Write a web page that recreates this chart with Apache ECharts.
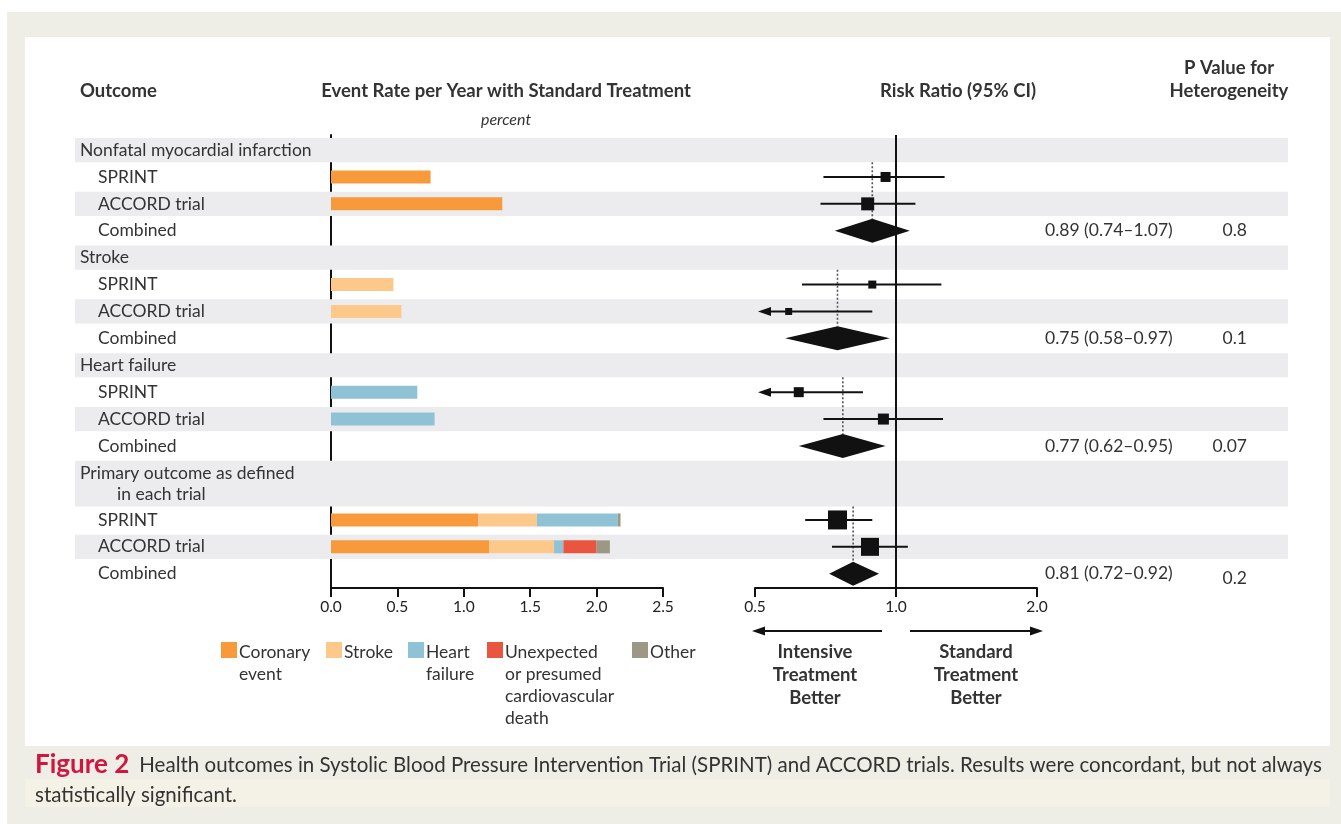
<!DOCTYPE html>
<html>
<head>
<meta charset="utf-8">
<title>SPRINT and ACCORD outcomes</title>
<script src="https://cdn.jsdelivr.net/npm/echarts@6/dist/echarts.min.js"></script>
<style>
  html, body { margin: 0; padding: 0; background: #ffffff; }
  #chart { width: 1341px; height: 824px; }
</style>
</head>
<body>
<div id="chart"></div>
<script>
// ---------- data ----------
const rowLabels = [
  'Nonfatal myocardial infarction', 'SPRINT', 'ACCORD trial', 'Combined',
  'Stroke', 'SPRINT', 'ACCORD trial', 'Combined',
  'Heart failure', 'SPRINT', 'ACCORD trial', 'Combined',
  'Primary outcome as defined\nin each trial', 'SPRINT', 'ACCORD trial', 'Combined'
];
const rowKind = [
  'group', 'trial', 'trial', 'combined',
  'group', 'trial', 'trial', 'combined',
  'group', 'trial', 'trial', 'combined',
  'group', 'trial', 'trial', 'combined'
];
const componentNames = ['Coronary\nevent', 'Stroke', 'Heart\nfailure', 'Unexpected\nor presumed\ncardiovascular\ndeath', 'Other'];

// event rate per year with standard treatment, percent
const coronaryRate     = [null, 0.75, 1.29, null,  null, null, null, null,  null, null, null, null,  null, 1.11, 1.19, null];
const strokeRate       = [null, null, null, null,  null, 0.47, 0.53, null,  null, null, null, null,  null, 0.44, 0.49, null];
const heartFailureRate = [null, null, null, null,  null, null, null, null,  null, 0.65, 0.78, null,  null, 0.61, 0.07, null];
const cvDeathRate      = [null, null, null, null,  null, null, null, null,  null, null, null, null,  null, null, 0.25, null];
const otherRate        = [null, null, null, null,  null, null, null, null,  null, null, null, null,  null, 0.02, 0.10, null];

// risk ratio with 95% CI
const riskRatio = [null, 0.95, 0.87, 0.89,  null, 0.89, 0.59, 0.75,  null, 0.62, 0.94, 0.77,  null, 0.75, 0.88, 0.81];
const riskLow   = [null, 0.70, 0.69, 0.74,  null, 0.63, 0.39, 0.58,  null, 0.45, 0.70, 0.62,  null, 0.64, 0.73, 0.72];
const riskHigh  = [null, 1.27, 1.10, 1.07,  null, 1.25, 0.89, 0.97,  null, 0.85, 1.26, 0.95,  null, 0.89, 1.06, 0.92];
const heterogeneityP = [null, null, null, '0.8',  null, null, null, '0.1',  null, null, null, '0.07',  null, null, null, '0.2'];

const rateTicks = [0, 0.5, 1, 1.5, 2, 2.5];
const ratioTicks = [0.5, 1, 2];

// ---------- layout ----------
// vertical slot of each row (row units); the two-line heading takes extra room
const rowSlot = [0, 1, 2, 3, 4, 5, 6, 7, 8, 9, 10, 11, 12.4, 13.75, 14.75, 15.75];
const rowHalf = rowSlot.map((s, i) => (i === 12 ? 0.85 : 0.45));
const markerSize = [0, 10, 13, 0,  0, 8, 7, 0,  0, 10, 11, 0,  0, 19, 18, 0];
const pValueShift = [0, 0, 0, 0,  0, 0, 0, 0,  0, 0, 0, 0,  0, 0, 0, 5];

const FONT = 'Lato, "Open Sans", sans-serif';
const TEXT = '#333333';
const INK = '#111111';
const STRIPE = '#ececef';
const ROW_FONT = 17.5;
const HEAD_FONT = 18.5;
const palette = ['#f79a3b', '#fdc98b', '#8fc2d5', '#e9553f', '#9d9885'];
const rateSeries = [coronaryRate, strokeRate, heartFailureRate, cvDeathRate, otherRate];

const Y_MIN = -0.56, Y_MAX = 16.28;
const TOP = 135, HEIGHT = 453;
const RATIO_MIN = ratioTicks[0], RATIO_MAX = ratioTicks[ratioTicks.length - 1];
const DIAMOND_HALF = 12;
const BAR_HEIGHT = 13;

function yAxisFor(gridIndex, showLine) {
  return {
    type: 'value', gridIndex, inverse: true, min: Y_MIN, max: Y_MAX,
    axisLine: { show: showLine, lineStyle: { color: INK, width: 2 } },
    axisTick: { show: false }, axisLabel: { show: false }, splitLine: { show: false }
  };
}
const tickAxisStyle = {
  axisLine: { show: true, onZero: false, lineStyle: { color: INK, width: 2 } },
  axisTick: { show: true, length: 9, lineStyle: { color: INK, width: 2 } },
  axisLabel: { color: '#222', fontFamily: FONT, fontSize: 15.5, margin: 11, formatter: v => Number(v).toFixed(1) },
  splitLine: { show: false }
};

// stacked rate segments for each component
const rateSegments = rateSeries.map((values, c) => {
  const out = [];
  values.forEach((v, i) => {
    if (v == null) return;
    let start = 0;
    for (let k = 0; k < c; k++) start += rateSeries[k][i] || 0;
    out.push([start, start + v, rowSlot[i]]);
  });
  return out;
});

const trialRows = rowKind.map((k, i) => i).filter(i => rowKind[i] === 'trial');
const combinedRows = rowKind.map((k, i) => i).filter(i => rowKind[i] === 'combined');

const series = [];

// row stripes
series.push({
  type: 'custom', xAxisIndex: 0, yAxisIndex: 0, z: 1, silent: true,
  data: rowSlot.map((s, i) => [0, s, rowHalf[i]]).filter((d, i) => i % 2 === 0),
  encode: { x: 0, y: 1 },
  renderItem(params, api) {
    const cs = params.coordSys;
    const y0 = api.coord([0, api.value(1) - api.value(2)])[1];
    const y1 = api.coord([0, api.value(1) + api.value(2)])[1];
    return { type: 'rect', shape: { x: cs.x, y: y0, width: cs.width, height: y1 - y0 }, style: { fill: STRIPE } };
  }
});

// row labels and heterogeneity P values
series.push({
  type: 'custom', xAxisIndex: 0, yAxisIndex: 0, z: 5, silent: true,
  data: rowSlot.map((s, i) => [0, s, i]),
  encode: { x: 0, y: 1 },
  renderItem(params, api) {
    const cs = params.coordSys;
    const i = api.value(2);
    const y = api.coord([0, rowSlot[i]])[1];
    const txt = (text, x, yy, align) => ({
      type: 'text',
      style: { text, x, y: yy, fill: TEXT, fontFamily: FONT, fontSize: ROW_FONT,
               align, textAlign: align, verticalAlign: 'middle', textVerticalAlign: 'middle' }
    });
    const children = [];
    const lines = rowLabels[i].split('\n');
    if (rowKind[i] === 'group') {
      if (lines.length === 1) {
        children.push(txt(lines[0], cs.x + 5, y, 'left'));
      } else {
        children.push(txt(lines[0], cs.x + 5, api.coord([0, rowSlot[i] - 0.4])[1], 'left'));
        children.push(txt(lines[1], cs.x + 42, api.coord([0, rowSlot[i] + 0.4])[1], 'left'));
      }
    } else {
      children.push(txt(lines[0], cs.x + 23, y, 'left'));
    }
    if (heterogeneityP[i] != null) {
      children.push(txt(heterogeneityP[i], cs.x + cs.width - 41, y + pValueShift[i], 'right'));
    }
    return { type: 'group', children };
  }
});

// stacked event-rate bars
rateSegments.forEach((segs, c) => {
  series.push({
    type: 'custom', name: componentNames[c], xAxisIndex: 1, yAxisIndex: 1, z: 3,
    data: segs, encode: { x: [0, 1], y: 2 },
    renderItem(params, api) {
      const a = api.coord([api.value(0), api.value(2)]);
      const b = api.coord([api.value(1), api.value(2)]);
      return {
        type: 'rect',
        shape: { x: a[0], y: a[1] - BAR_HEIGHT / 2, width: b[0] - a[0], height: BAR_HEIGHT },
        style: { fill: palette[c] }
      };
    }
  });
});

// dotted guides from each heading down to the pooled estimate
series.push({
  type: 'custom', xAxisIndex: 2, yAxisIndex: 2, z: 3, silent: true,
  data: combinedRows.map(i => [riskRatio[i], rowSlot[i - 3] + rowHalf[i - 3], rowSlot[i]]),
  encode: { x: 0, y: [1, 2] },
  renderItem(params, api) {
    const top = api.coord([api.value(0), api.value(1)]);
    const mid = api.coord([api.value(0), api.value(2)]);
    return {
      type: 'line',
      shape: { x1: top[0], y1: top[1], x2: mid[0], y2: mid[1] - DIAMOND_HALF },
      style: { stroke: '#555', lineWidth: 1.6, lineDash: [2, 2] }
    };
  }
});

// individual trials: CI whisker + weighted square
series.push({
  type: 'custom', xAxisIndex: 2, yAxisIndex: 2, z: 4, silent: true,
  data: trialRows.map(i => [riskRatio[i], riskLow[i], riskHigh[i], rowSlot[i], markerSize[i]]),
  encode: { x: [0, 2], y: 3 },
  renderItem(params, api) {
    const rr = api.value(0), lo = api.value(1), hi = api.value(2), slot = api.value(3), size = api.value(4);
    const clipped = lo < RATIO_MIN;
    const pLo = api.coord([clipped ? RATIO_MIN : lo, slot]);
    const pHi = api.coord([Math.min(hi, RATIO_MAX), slot]);
    const pMid = api.coord([rr, slot]);
    const y = pMid[1];
    const children = [];
    const tip = pLo[0] + 3;
    children.push({
      type: 'line',
      shape: { x1: clipped ? tip + 8 : pLo[0], y1: y, x2: pHi[0], y2: y },
      style: { stroke: INK, lineWidth: 2 }
    });
    if (clipped) {
      children.push({
        type: 'polygon',
        shape: { points: [[tip, y], [tip + 13, y - 4.5], [tip + 13, y + 4.5]] },
        style: { fill: INK }
      });
    }
    children.push({
      type: 'rect',
      shape: { x: pMid[0] - size / 2, y: y - size / 2, width: size, height: size },
      style: { fill: INK }
    });
    return { type: 'group', children };
  }
});

// pooled estimates: diamond + printed ratio; the 1.0 reference line
series.push({
  type: 'custom', xAxisIndex: 2, yAxisIndex: 2, z: 4, silent: true,
  data: combinedRows.map(i => [riskRatio[i], riskLow[i], riskHigh[i], rowSlot[i]]),
  encode: { x: [0, 1, 2], y: 3 },
  renderItem(params, api) {
    const cs = params.coordSys;
    const rr = api.value(0), lo = api.value(1), hi = api.value(2), slot = api.value(3);
    const pLo = api.coord([lo, slot]), pHi = api.coord([hi, slot]), pMid = api.coord([rr, slot]);
    const y = pMid[1];
    const label = rr.toFixed(2) + ' (' + lo.toFixed(2) + '\u2013' + hi.toFixed(2) + ')';
    return {
      type: 'group',
      children: [
        {
          type: 'polygon',
          shape: { points: [[pLo[0], y], [pMid[0], y - DIAMOND_HALF], [pHi[0], y], [pMid[0], y + DIAMOND_HALF]] },
          style: { fill: INK }
        },
        {
          type: 'text',
          style: { text: label, x: cs.x + cs.width + 8, y, fill: TEXT, fontFamily: FONT, fontSize: ROW_FONT,
                   align: 'left', textAlign: 'left', verticalAlign: 'middle', textVerticalAlign: 'middle' }
        }
      ]
    };
  },
  markLine: {
    silent: true, symbol: ['none', 'none'], label: { show: false },
    lineStyle: { color: INK, width: 2, type: 'solid' },
    data: [{ xAxis: 1 }]
  }
});

// ---------- static text, legend, direction arrows, caption ----------
function gText(text, x, y, opts) {
  opts = opts || {};
  return {
    type: 'text', x, y, silent: true,
    style: {
      text, fill: opts.fill || TEXT, fontFamily: FONT,
      fontSize: opts.size || ROW_FONT, fontWeight: opts.weight || 'normal', fontStyle: opts.style || 'normal',
      align: opts.align || 'left', textAlign: opts.align || 'left',
      verticalAlign: 'middle', textVerticalAlign: 'middle', lineHeight: opts.lineHeight || 22
    }
  };
}

const head = { weight: 'bold', size: HEAD_FONT };
const graphics = [
  { type: 'rect', z: -10, silent: true, shape: { x: 7, y: 12, width: 1334, height: 812 }, style: { fill: '#efeee6' } },
  { type: 'rect', z: -9, silent: true, shape: { x: 25, y: 37, width: 1305, height: 709 }, style: { fill: '#ffffff' } },
  { type: 'rect', z: -9, silent: true, shape: { x: 25, y: 779, width: 1305, height: 28 }, style: { fill: '#f4f2e6' } },

  gText('Outcome', 80, 91, head),
  gText('Event Rate per Year with Standard Treatment', 506, 91, Object.assign({ align: 'center' }, head)),
  gText('percent', 506, 120, { style: 'italic', size: 16, align: 'center' }),
  gText('Risk Ratio (95% CI)', 958, 91, Object.assign({ align: 'center' }, head)),
  gText('P Value for', 1229, 68, Object.assign({ align: 'center' }, head)),
  gText('Heterogeneity', 1229, 91, Object.assign({ align: 'center' }, head)),

  // favour arrows under the ratio axis
  { type: 'line', silent: true, shape: { x1: 882, y1: 631, x2: 762, y2: 631 }, style: { stroke: INK, lineWidth: 2 } },
  { type: 'polygon', silent: true, shape: { points: [[752, 631], [765, 626.5], [765, 635.5]] }, style: { fill: INK } },
  { type: 'line', silent: true, shape: { x1: 910, y1: 631, x2: 1032, y2: 631 }, style: { stroke: INK, lineWidth: 2 } },
  { type: 'polygon', silent: true, shape: { points: [[1043, 631], [1030, 626.5], [1030, 635.5]] }, style: { fill: INK } },
  gText('Intensive\nTreatment\nBetter', 815, 675, Object.assign({ align: 'center', lineHeight: 23 }, head)),
  gText('Standard\nTreatment\nBetter', 976, 675, Object.assign({ align: 'center', lineHeight: 23 }, head)),

  // caption
  {
    type: 'text', x: 35, y: 765, silent: true,
    style: {
      text: '{f|Figure 2}{b|Health outcomes in Systolic Blood Pressure Intervention Trial (SPRINT) and ACCORD trials. Results were concordant, but not always}',
      verticalAlign: 'middle', textVerticalAlign: 'middle',
      rich: {
        f: { fill: '#d0163f', fontFamily: FONT, fontWeight: 'bold', fontSize: 26, padding: [0, 10, 0, 0] },
        b: { fill: TEXT, fontFamily: FONT, fontSize: 20.5 }
      }
    }
  },
  gText('statistically significant.', 35, 795, { size: 20.5 })
];

// legend swatches with top-aligned multi-line names
const legendX = [221, 326, 408, 487, 632];
componentNames.forEach((name, c) => {
  graphics.push({ type: 'rect', silent: true, shape: { x: legendX[c], y: 642, width: 16, height: 16 }, style: { fill: palette[c] } });
  const lines = name.split('\n');
  lines.forEach((line, k) => graphics.push(gText(line, legendX[c] + 18, 652 + k * 22, { size: ROW_FONT })));
});

const option = {
  animation: false,
  grid: [
    { left: 75, top: TOP, width: 1213, height: HEIGHT },
    { left: 331, top: TOP, width: 332, height: HEIGHT },
    { left: 755, top: TOP, width: 282, height: HEIGHT }
  ],
  xAxis: [
    { type: 'value', gridIndex: 0, min: 0, max: 1, show: false },
    Object.assign({ type: 'value', gridIndex: 1, min: rateTicks[0], max: rateTicks[rateTicks.length - 1], interval: rateTicks[1] - rateTicks[0] }, tickAxisStyle),
    Object.assign({ type: 'log', logBase: 2, gridIndex: 2, min: RATIO_MIN, max: RATIO_MAX }, tickAxisStyle)
  ],
  yAxis: [yAxisFor(0, false), yAxisFor(1, true), yAxisFor(2, false)],
  graphic: { elements: graphics },
  series
};

const chart = echarts.init(document.getElementById('chart'));
chart.setOption(option);
</script>
</body>
</html>
